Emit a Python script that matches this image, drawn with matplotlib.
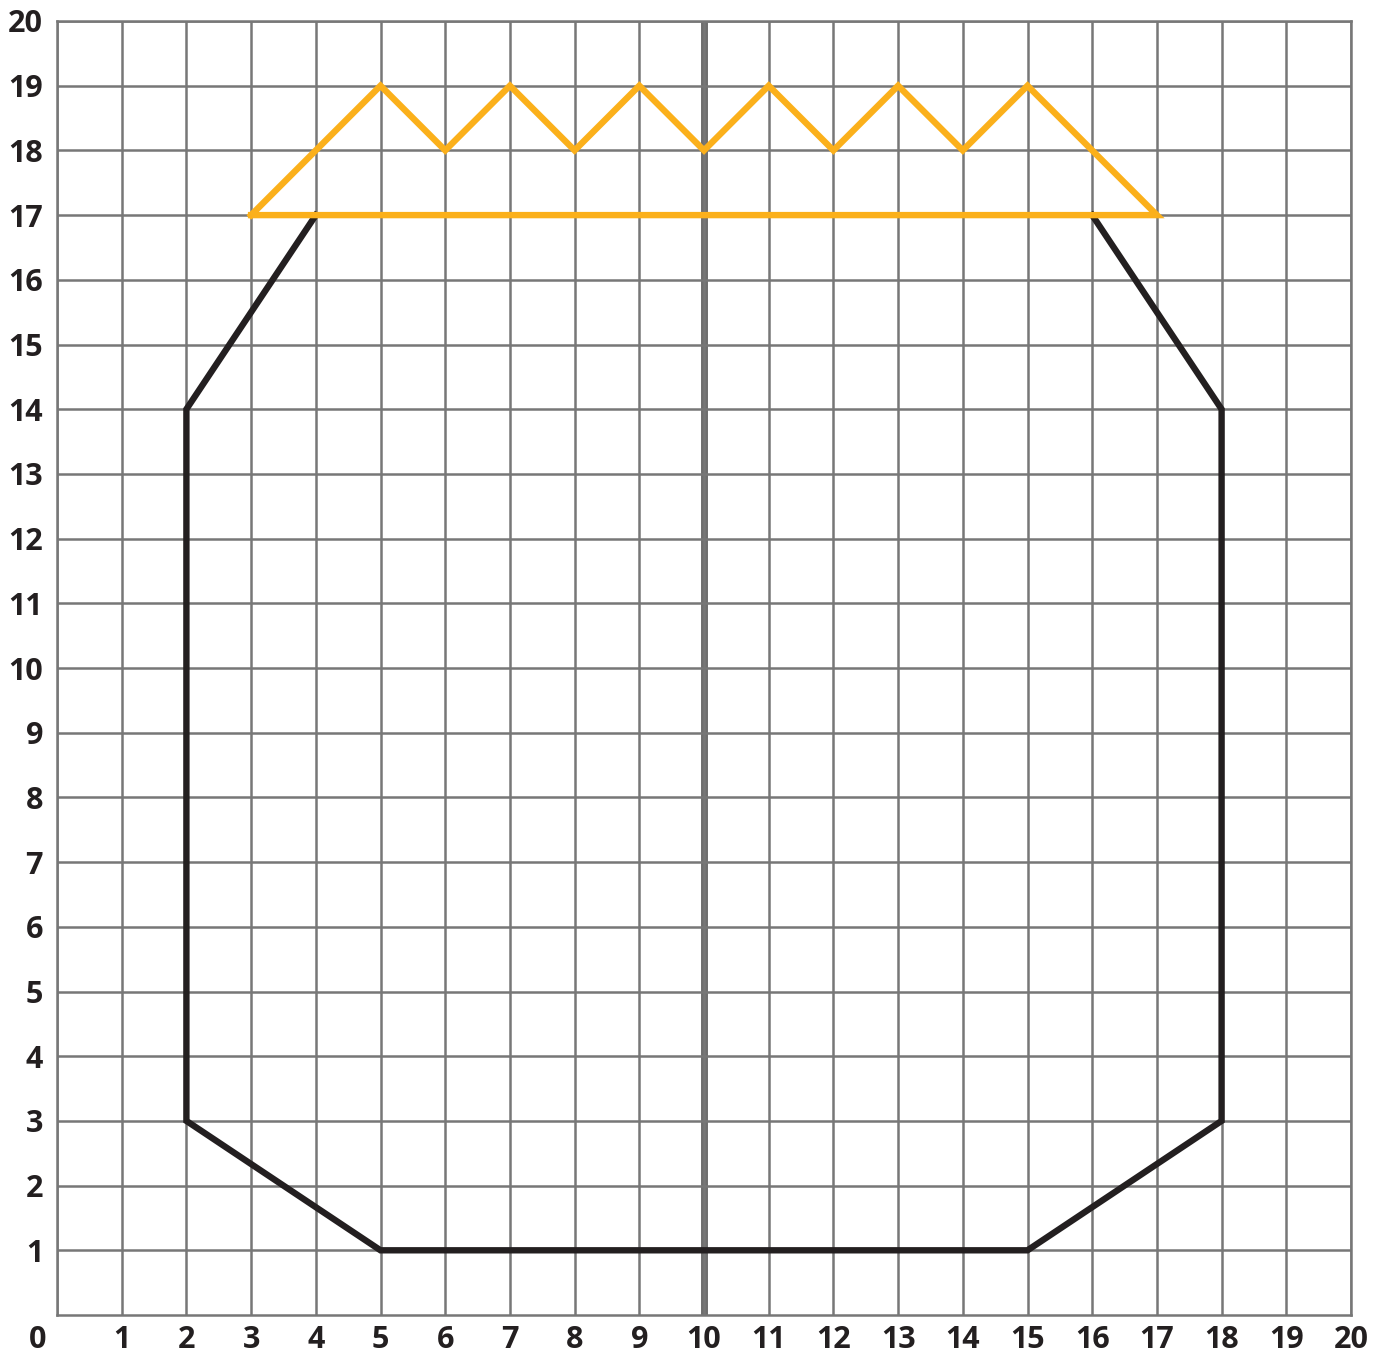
import matplotlib
matplotlib.use("Agg")
import matplotlib.pyplot as plt
import matplotlib.transforms as mtransforms

# Data
body_x = [4, 2, 2, 5, 15, 18, 18, 16]
body_y = [17, 14, 3, 1, 1, 3, 14, 17]
lid_x = [3, 5, 6, 7, 8, 9, 10, 11, 12, 13, 14, 15, 17, 3]
lid_y = [17, 19, 18, 19, 18, 19, 18, 19, 18, 19, 18, 19, 17, 17]
x_ticks = list(range(0, 21))
y_ticks = list(range(1, 21))
mirror_x = 10

plt.rcParams['font.family'] = ['Open Sans', 'DejaVu Sans']

fig = plt.figure(figsize=(13.84, 13.58), dpi=100)
ax = fig.add_axes([57/1384, 1 - 1315/1358, (1351-57)/1384, (1315-21)/1358])
ax.set_xlim(0, 20)
ax.set_ylim(0, 20)

grid_c = '#777777'
ax.set_xticks(x_ticks)
ax.set_yticks(y_ticks)
ax.grid(True, color=grid_c, linewidth=1.8, zorder=0)
for s in ax.spines.values():
    s.set_color(grid_c)
    s.set_linewidth(1.8)
ax.tick_params(axis='x', length=0, labelsize=22, pad=7)
ax.tick_params(axis='y', length=0, labelsize=22, pad=10)
ax.set_xticklabels([str(v) for v in x_ticks], fontweight='bold', color='#231f20')
ax.set_yticklabels([str(v) for v in y_ticks], fontweight='bold', color='#231f20')
# shift the "0" x label left of the origin
lbl0 = ax.get_xticklabels()[0]
lbl0.set_transform(lbl0.get_transform() + mtransforms.ScaledTranslation(-19/100, 0, fig.dpi_scale_trans))

ax.axvline(mirror_x, color='#6e6e6e', linewidth=5, zorder=1)

ax.plot(body_x, body_y, color='#231f20', linewidth=4.6, solid_joinstyle='miter', zorder=3)
ax.plot(lid_x, lid_y, color='#fbb01b', linewidth=4.6, solid_joinstyle='miter', zorder=4)

fig.savefig('out.png', dpi=100)
